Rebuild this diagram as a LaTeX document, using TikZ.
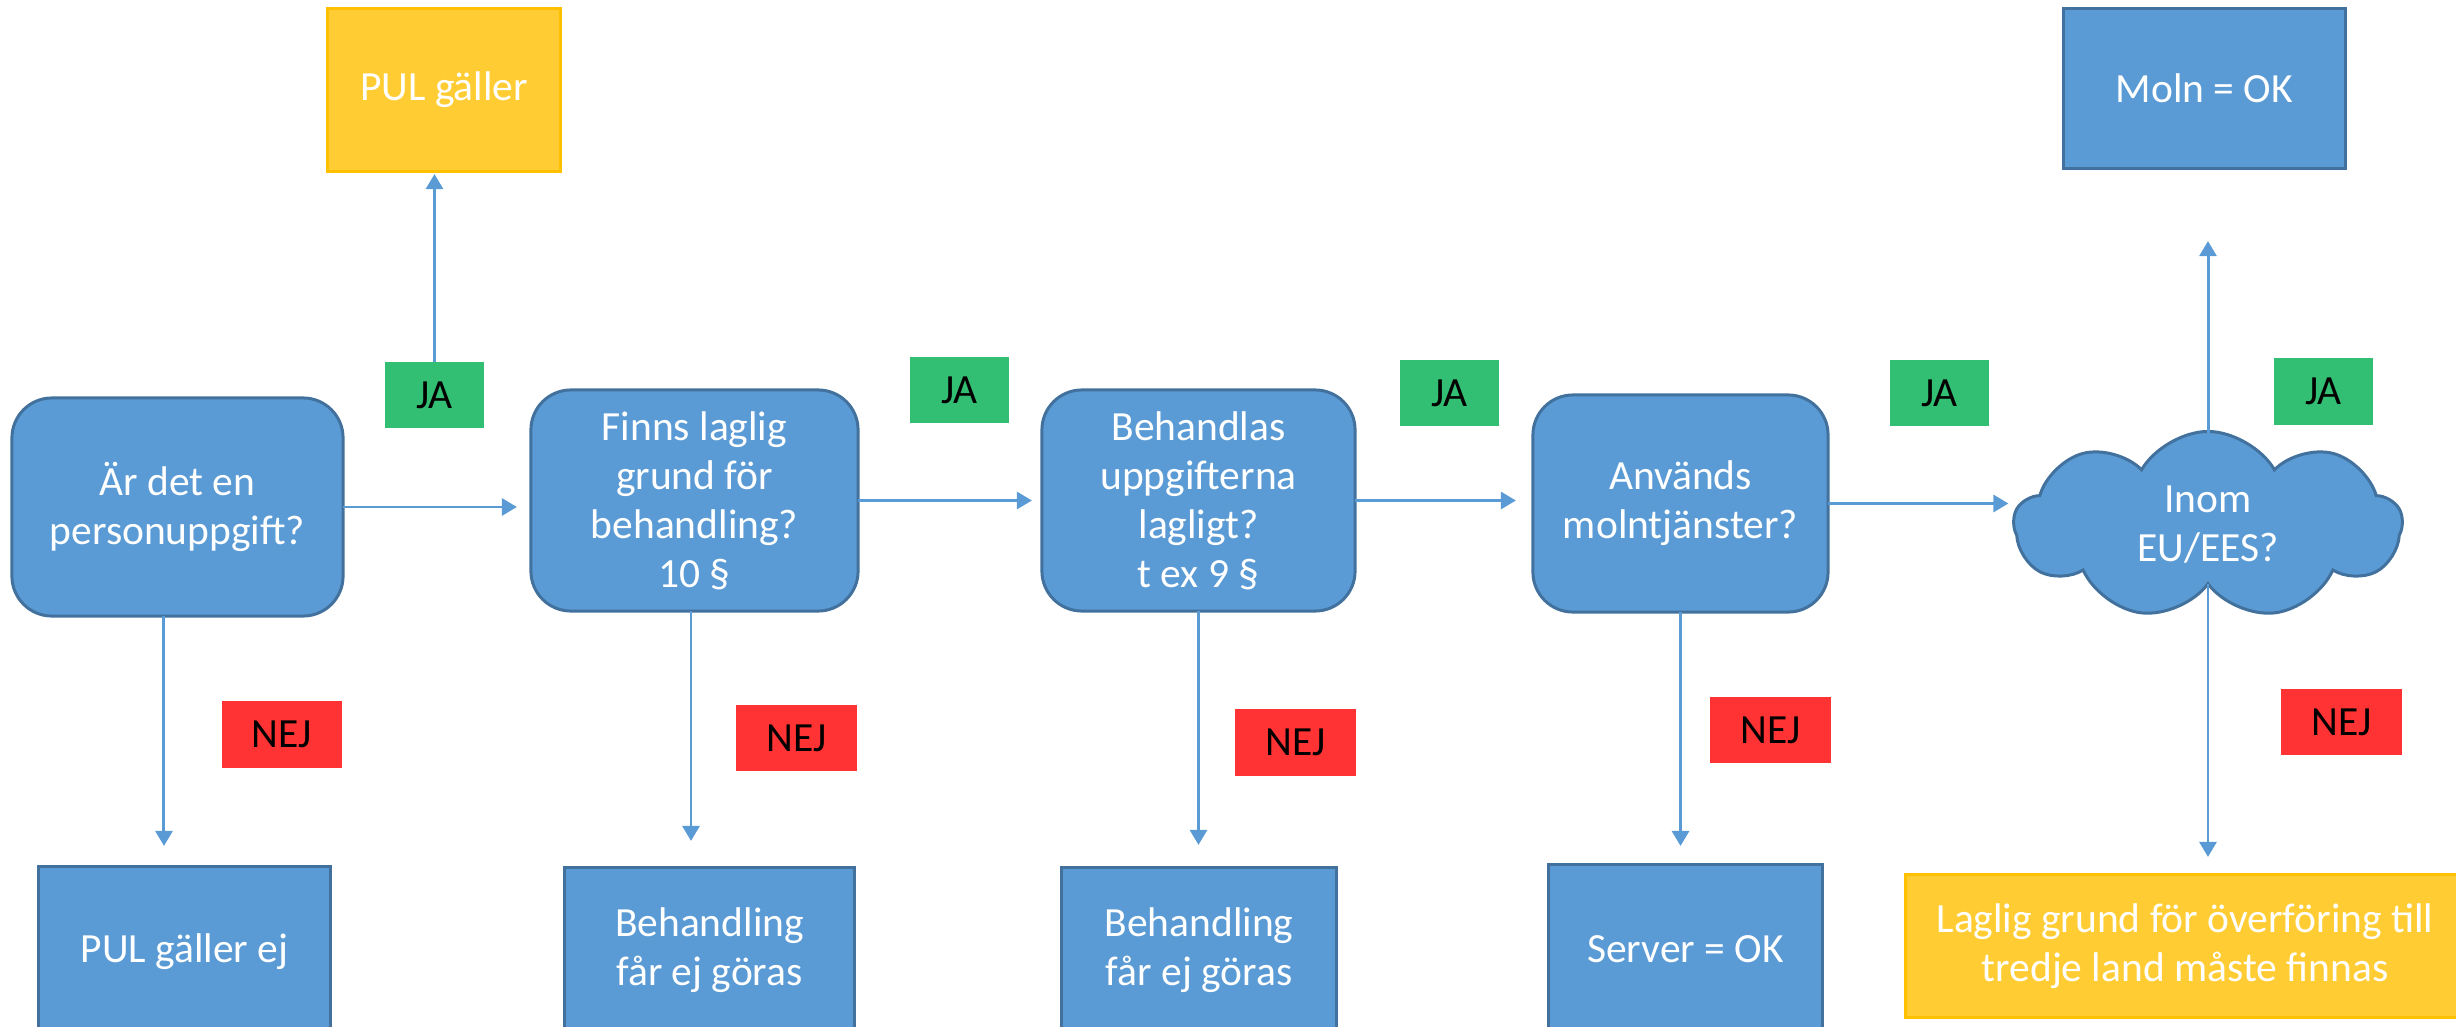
\documentclass[tikz,border=0pt]{standalone}
\usepackage{fontspec}
\setmainfont{Carlito}
\usetikzlibrary{shapes.symbols,arrows.meta}
\definecolor{bfill}{HTML}{5B9BD5}
\definecolor{bline}{HTML}{41719C}
\definecolor{yfill}{HTML}{FFCD33}
\definecolor{yline}{HTML}{FFC000}
\definecolor{gfill}{HTML}{33BF73}
\definecolor{rfill}{HTML}{FF3333}
\definecolor{aline}{HTML}{5B9BD5}
\tikzset{
  base/.style={inner sep=0pt, outer sep=0pt, align=center, font=\fontsize{11.8}{13.9}\selectfont},
  qbox/.style={base, rectangle, rounded corners=0.4cm, fill=bfill, draw=bline, line width=0.85pt, text=white},
  rbox/.style={base, rectangle, fill=bfill, draw=bline, line width=0.85pt, text=white},
  ybox/.style={base, rectangle, fill=yfill, draw=yline, line width=0.85pt, text=white},
  jabox/.style={base, rectangle, fill=gfill, minimum width=0.99cm, minimum height=0.66cm, text=black},
  nejbox/.style={base, rectangle, fill=rfill, minimum width=1.2cm, minimum height=0.66cm, text=black},
  conn/.style={draw=aline, line width=0.85pt, -{Triangle[width=0.17cm, length=0.15cm]}},
}
\begin{document}
\begin{tikzpicture}[x=0.01cm, y=-0.01cm]
\useasboundingbox (0,0) rectangle (2456,1027);
\clip (0,0) rectangle (2456,1027);
% question boxes
\node[qbox, minimum width=3.31cm, minimum height=2.18cm] (b1) at (177.5,507) {Är det en\\personuppgift?};
\node[qbox, minimum width=3.27cm, minimum height=2.21cm] (b2) at (694.5,500.5) {Finns laglig\\grund för\\behandling?\\10 §};
\node[qbox, minimum width=3.13cm, minimum height=2.21cm] (b3) at (1198.5,500.5) {Behandlas\\uppgifterna\\lagligt?\\t ex 9 §};
\node[qbox, minimum width=2.95cm, minimum height=2.17cm] (b4) at (1680.5,503.5) {Används\\molntjänster?};
\node[base, shape=cloud, cloud puffs=9, cloud puff arc=120, aspect=2.05, fill=bfill, draw=bline, line width=0.85pt, text=white, minimum width=3.88cm, minimum height=1.87cm] (cloud) at (2208,525) {Inom\\EU/EES?};
% top boxes
\node[ybox, minimum width=2.32cm, minimum height=1.62cm] (pul) at (444,90) {PUL gäller};
\node[rbox, minimum width=2.81cm, minimum height=1.59cm] (moln) at (2204.5,88.5) {Moln = OK};
% bottom boxes
\node[rbox, minimum width=2.91cm, minimum height=1.70cm] (pge) at (184.5,952) {PUL gäller ej};
\node[rbox, minimum width=2.89cm, minimum height=1.64cm] (f2) at (709.5,950) {Behandling\\får ej göras};
\node[rbox, minimum width=2.74cm, minimum height=1.64cm] (f3) at (1199,950) {Behandling\\får ej göras};
\node[rbox, minimum width=2.73cm, minimum height=1.68cm] (srv) at (1685.5,949) {Server = OK};
\node[ybox, minimum width=5.58cm, minimum height=1.42cm] (lag) at (2185,946) {Laglig grund för överföring till\\tredje land måste finnas};
% labels
\node[jabox] (ja1) at (434.5,395) {JA};
\node[jabox] (ja2) at (959.5,390) {JA};
\node[jabox] (ja3) at (1449.5,393) {JA};
\node[jabox] (ja4) at (1939.5,393) {JA};
\node[jabox] (ja5) at (2323.5,391.5) {JA};
\node[nejbox] (nej1) at (282,734.5) {NEJ};
\node[nejbox] (nej2) at (796.5,738) {NEJ};
\node[nejbox] (nej3) at (1295.5,742.5) {NEJ};
\node[nejbox] (nej4) at (1770.5,730) {NEJ};
\node[nejbox] (nej5) at (2341.5,722) {NEJ};
% connectors
\draw[conn, shorten >=0.14cm] (b1.east) -- (b1.east -| b2.west);
\draw[conn, shorten >=0.10cm] (b2.east) -- (b2.east -| b3.west);
\draw[conn, shorten >=0.17cm] (b3.east) -- (b3.east -| b4.west);
\draw[conn, shorten >=0.05cm] (b4.east) -- (b4.east -| cloud.west);
\draw[conn, shorten >=0.21cm] ([xshift=-0.135cm]b1.south) -- ([xshift=-0.135cm]b1.south |- pge.north);
\draw[conn, shorten >=0.27cm] ([xshift=-0.035cm]b2.south) -- ([xshift=-0.035cm]b2.south |- f2.north);
\draw[conn, shorten >=0.23cm] (b3.south) -- (b3.south |- f3.north);
\draw[conn, shorten >=0.19cm] (b4.south) -- (b4.south |- srv.north);
\draw[conn, shorten >=0.03cm] (ja1.north) -- (ja1.north |- pul.south);
\draw[conn, shorten >=0.65cm] ([yshift=-0.08cm]cloud.north) -- ([yshift=-0.08cm]cloud.north |- moln.south);
\draw[conn, shorten >=0.18cm] (cloud.south) -- (cloud.south |- lag.north);
\end{tikzpicture}
\end{document}
